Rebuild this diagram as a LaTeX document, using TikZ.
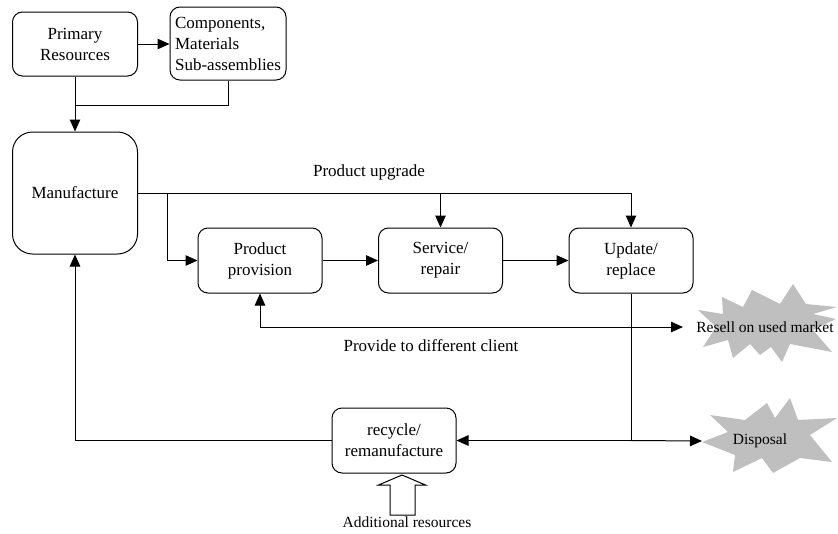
\documentclass[tikz,border=0pt]{standalone}
\usepackage{fontspec}
\setmainfont{Liberation Serif}
\usetikzlibrary{arrows.meta}
\begin{document}
\begin{tikzpicture}[x=1pt,y=-1pt,
  box/.style={draw, line width=1pt, rounded corners=10pt, minimum width=124pt, minimum height=65pt, align=center, inner sep=3pt, font=\fontsize{17}{21}\selectfont},
  tip/.tip={Triangle[length=12pt,width=10.5pt]},
  arr/.style={line width=1pt, -tip},
  ln/.style={line width=1pt},
  lab/.style={font=\fontsize{17}{21}\selectfont, inner sep=0pt},
  small/.style={font=\fontsize{15.5}{19}\selectfont, inner sep=0pt},
  burstfill/.style={fill=black!25, draw=none}]
\useasboundingbox (0,0) rectangle (838,533);

% bursts
\fill[burstfill, shift={(768,322)}] (25,-38) -- (12,-18) -- (-16,-32) -- (-25,-15) -- (-46,-25) -- (-45,-8) -- (-70,-12) -- (-52,5) -- (-65,25) -- (-40,18) -- (-35,36) -- (-18,22) -- (-8,33) -- (3,25) -- (14,40) -- (22,22) -- (64,30) -- (45,8) -- (68,-3) -- (45,-8) -- (69,-15) -- (38,-18) -- cycle;
\fill[burstfill, shift={(770,440)}] (20,-42) -- (28,-20) -- (67,-22) -- (40,-5) -- (62,22) -- (30,18) -- (3,33) -- (-8,18) -- (-37,32) -- (-35,15) -- (-68,2) -- (-42,-8) -- (-60,-25) -- (-25,-20) -- (-3,-37) -- (5,-22) -- cycle;

% nodes
\node[box, minimum width=125pt, minimum height=64pt] (prim) at (75,44) {Primary\\Resources};
\node[box, minimum width=116pt, minimum height=73pt, align=left, inner xsep=5pt] (comp) at (228,43.5) {Components,\\Materials\\Sub-assemblies};
\node[box, minimum width=125pt, minimum height=122pt, rounded corners=20pt] (manu) at (75,193) {Manufacture};
\node[box] (pp) at (260,260.5) {Product\\provision};
\node[box] (serv) at (440.5,260.5) {Service/\\repair};
\node[box] (upd) at (631,260.5) {Update/\\replace};
\node[box] (rec) at (394,440.5) {recycle/\\remanufacture};

\node[lab] (upglab) at (369,172) {Product upgrade};
\node[lab] (provlab) at (431,346) {Provide to different client};
\node[small] (resell) at (765,327) {Resell on used market};
\node[small] (disp) at (760,441) {Disposal};
\node[small] (addres) at (407,522) {Additional resources};

\coordinate (resL) at (683,327);
\coordinate (dispL) at (702,441);
\coordinate (j1) at (75,105);
\coordinate (jb) at (167,193);

% connectors
\draw[arr] (prim.east) -- (prim.east -| comp.west);
\draw[arr] (prim.south) -- (manu.north);
\draw[ln] (comp.south) |- (j1);
\draw[arr] (manu.east) -| (upd.north);
\draw[arr] (serv.north |- manu.east) -- (serv.north);
\draw[arr] (jb) |- (pp.west);
\draw[arr] (pp) -- (serv);
\draw[arr] (serv) -- (upd);
\draw[ln, tip-tip] (pp.south) |- (resL);
\draw[ln] (upd.south) -- (upd.south |- rec.east) coordinate (jd);
\draw[arr] (jd) -- (rec.east);
\draw[arr] (jd) -- (dispL);
\draw[arr] (rec.west) -| (manu.south);

% block arrow
\draw[line width=1pt, fill=white] (402,475) -- (425.5,485) -- (415,485) -- (415,515) -- (390,515) -- (390,485) -- (378.5,485) -- cycle;
\end{tikzpicture}
\end{document}
